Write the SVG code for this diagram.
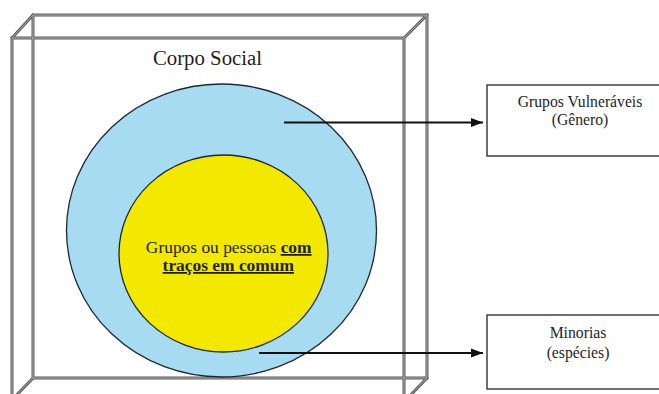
<svg xmlns="http://www.w3.org/2000/svg" width="659" height="394" viewBox="0 0 659 394">
<defs>
<style>
.edge{fill:none;stroke:#5a5a5a;stroke-width:3;stroke-linecap:square}
.edgein{fill:none;stroke:#b0b0b0;stroke-width:1}
.t{fill:#1e1e1e}
.box{fill:#fff;stroke:#333;stroke-width:1.4}
.conn{fill:none;stroke:#111;stroke-width:1.8}
</style>
<marker id="ah" markerUnits="userSpaceOnUse" markerWidth="12" markerHeight="10" refX="12" refY="5" orient="auto">
<path d="M0,0.5 L12,5 L0,9.5 z" fill="#111"/>
</marker>
</defs>
<rect width="659" height="394" fill="#fff"/>
<g font-family="'Liberation Serif', Tinos, 'Times New Roman', 'DejaVu Serif', serif">
<g id="corpo-social">
<g id="prism-lines">
<path d="M33,15 H427 V378 H33 Z M12,38 H404 V400 M12,38 V400 M12,38 L33,15 M404,38 L427,15 M427,378 L404,402 M33,378 L10,402" class="edge"/>
<path d="M33,15 H427 V378 H33 Z M12,38 H404 V400 M12,38 V400 M12,38 L33,15 M404,38 L427,15 M427,378 L404,402 M33,378 L10,402" class="edgein"/>
</g>
<text class="t" x="207.5" y="65" font-size="20.8" text-anchor="middle">Corpo Social</text>
</g>
<g id="grupos-vulneraveis-circle">
<ellipse cx="221.5" cy="230.5" rx="155" ry="146.5" fill="#A7DBF2" stroke="#1c2833" stroke-width="1.3"/>
</g>
<g id="tracos-comum-circle">
<ellipse cx="223.5" cy="253.5" rx="104.5" ry="98.5" fill="#F3E800" stroke="#1c2833" stroke-width="1.3"/>
<text class="t" x="228.7" y="253" font-size="17.4" text-anchor="middle">Grupos ou pessoas <tspan font-weight="bold" text-decoration="underline">com</tspan></text>
<text class="t" x="228.3" y="271" font-size="17.4" text-anchor="middle" font-weight="bold" text-decoration="underline">traços em comum</text>
</g>
<g id="connectors">
<line class="conn" x1="284" y1="122.5" x2="483" y2="122.5" marker-end="url(#ah)"/>
<line class="conn" x1="259" y1="353" x2="483" y2="353" marker-end="url(#ah)"/>
</g>
<g id="box-grupos-vulneraveis">
<rect class="box" x="487" y="85" width="190" height="71"/>
<text class="t" x="580" y="107" font-size="15.7" text-anchor="middle">Grupos Vulneráveis</text>
<text class="t" x="580" y="124.5" font-size="15.7" text-anchor="middle">(Gênero)</text>
</g>
<g id="box-minorias">
<rect class="box" x="487" y="315" width="190" height="74"/>
<text class="t" x="578" y="338" font-size="15.7" text-anchor="middle">Minorias</text>
<text class="t" x="578" y="357.5" font-size="15.7" text-anchor="middle">(espécies)</text>
</g>
</g>
</svg>
